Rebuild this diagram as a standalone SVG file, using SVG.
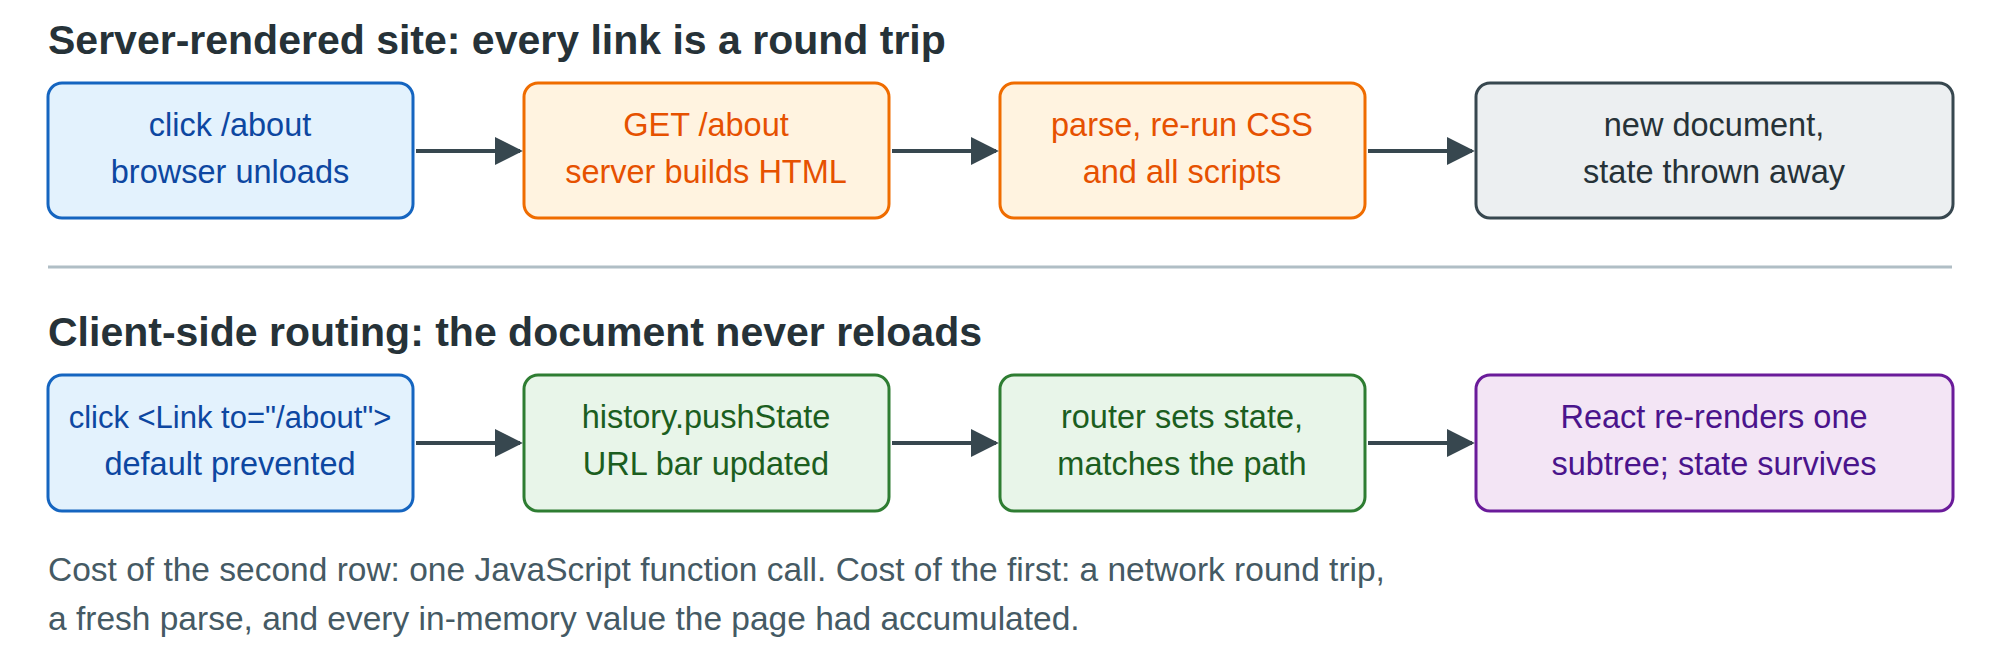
<svg xmlns="http://www.w3.org/2000/svg" width="2000" height="667" viewBox="0 0 2000 667">
<style>
.t{font-family:"Liberation Sans",Arial,sans-serif;font-weight:bold;font-size:41px;fill:#263238}
.l{font-family:"Liberation Sans",Arial,sans-serif;font-size:32.5px;text-anchor:middle}
.f{font-family:"Liberation Sans",Arial,sans-serif;font-size:33.5px;fill:#455a64}
rect{stroke-width:3}
.b rect{fill:#e3f2fd;stroke:#1565c0}.b text{fill:#0d47a1}
.o rect{fill:#fff3e0;stroke:#ef6c00}.o text{fill:#e65100}
.g rect{fill:#eceff1;stroke:#37474f}.g text{fill:#263238}
.gr rect{fill:#e8f5e9;stroke:#2e7d32}.gr text{fill:#1b5e20}
.p rect{fill:#f3e5f5;stroke:#6a1b9a}.p text{fill:#4a148c}
.c line{stroke:#37474f;stroke-width:4;marker-end:url(#a)}
</style>
<defs><marker id="a" viewBox="0 0 10 10" refX="9" refY="5" markerWidth="28" markerHeight="28" markerUnits="userSpaceOnUse" orient="auto"><path d="M0,0L10,5L0,10z" fill="#37474f"/></marker></defs>
<rect width="2000" height="667" fill="#fff" stroke="none"/>
<text class="t" x="48" y="54">Server-rendered site: every link is a round trip</text>
<g id="n1" class="b"><rect x="48" y="83" width="365" height="135" rx="14"/><text class="l" x="230" y="136">click /about</text><text class="l" x="230" y="183">browser unloads</text></g>
<g id="n2" class="o"><rect x="524" y="83" width="365" height="135" rx="14"/><text class="l" x="706" y="136">GET /about</text><text class="l" x="706" y="183">server builds HTML</text></g>
<g id="n3" class="o"><rect x="1000" y="83" width="365" height="135" rx="14"/><text class="l" x="1182" y="136">parse, re-run CSS</text><text class="l" x="1182" y="183">and all scripts</text></g>
<g id="n4" class="g"><rect x="1476" y="83" width="477" height="135" rx="14"/><text class="l" x="1714" y="136">new document,</text><text class="l" x="1714" y="183">state thrown away</text></g>
<line x1="48" y1="267" x2="1952" y2="267" stroke="#b0bec5" stroke-width="3"/>
<text class="t" x="48" y="346">Client-side routing: the document never reloads</text>
<g id="m1" class="b"><rect x="48" y="375" width="365" height="136" rx="14"/><text class="l" x="230" y="428" style="font-size:31px">click &lt;Link to="/about"&gt;</text><text class="l" x="230" y="475">default prevented</text></g>
<g id="m2" class="gr"><rect x="524" y="375" width="365" height="136" rx="14"/><text class="l" x="706" y="428">history.pushState</text><text class="l" x="706" y="475">URL bar updated</text></g>
<g id="m3" class="gr"><rect x="1000" y="375" width="365" height="136" rx="14"/><text class="l" x="1182" y="428">router sets state,</text><text class="l" x="1182" y="475">matches the path</text></g>
<g id="m4" class="p"><rect x="1476" y="375" width="477" height="136" rx="14"/><text class="l" x="1714" y="428">React re-renders one</text><text class="l" x="1714" y="475">subtree; state survives</text></g>
<g id="connectors" class="c">
<line x1="416" y1="151" x2="520" y2="151"/><line x1="892" y1="151" x2="996" y2="151"/><line x1="1368" y1="151" x2="1472" y2="151"/>
<line x1="416" y1="443" x2="520" y2="443"/><line x1="892" y1="443" x2="996" y2="443"/><line x1="1368" y1="443" x2="1472" y2="443"/>
</g>
<text class="f" x="48" y="581">Cost of the second row: one JavaScript function call. Cost of the first: a network round trip,</text>
<text class="f" x="48" y="630">a fresh parse, and every in-memory value the page had accumulated.</text>
</svg>
